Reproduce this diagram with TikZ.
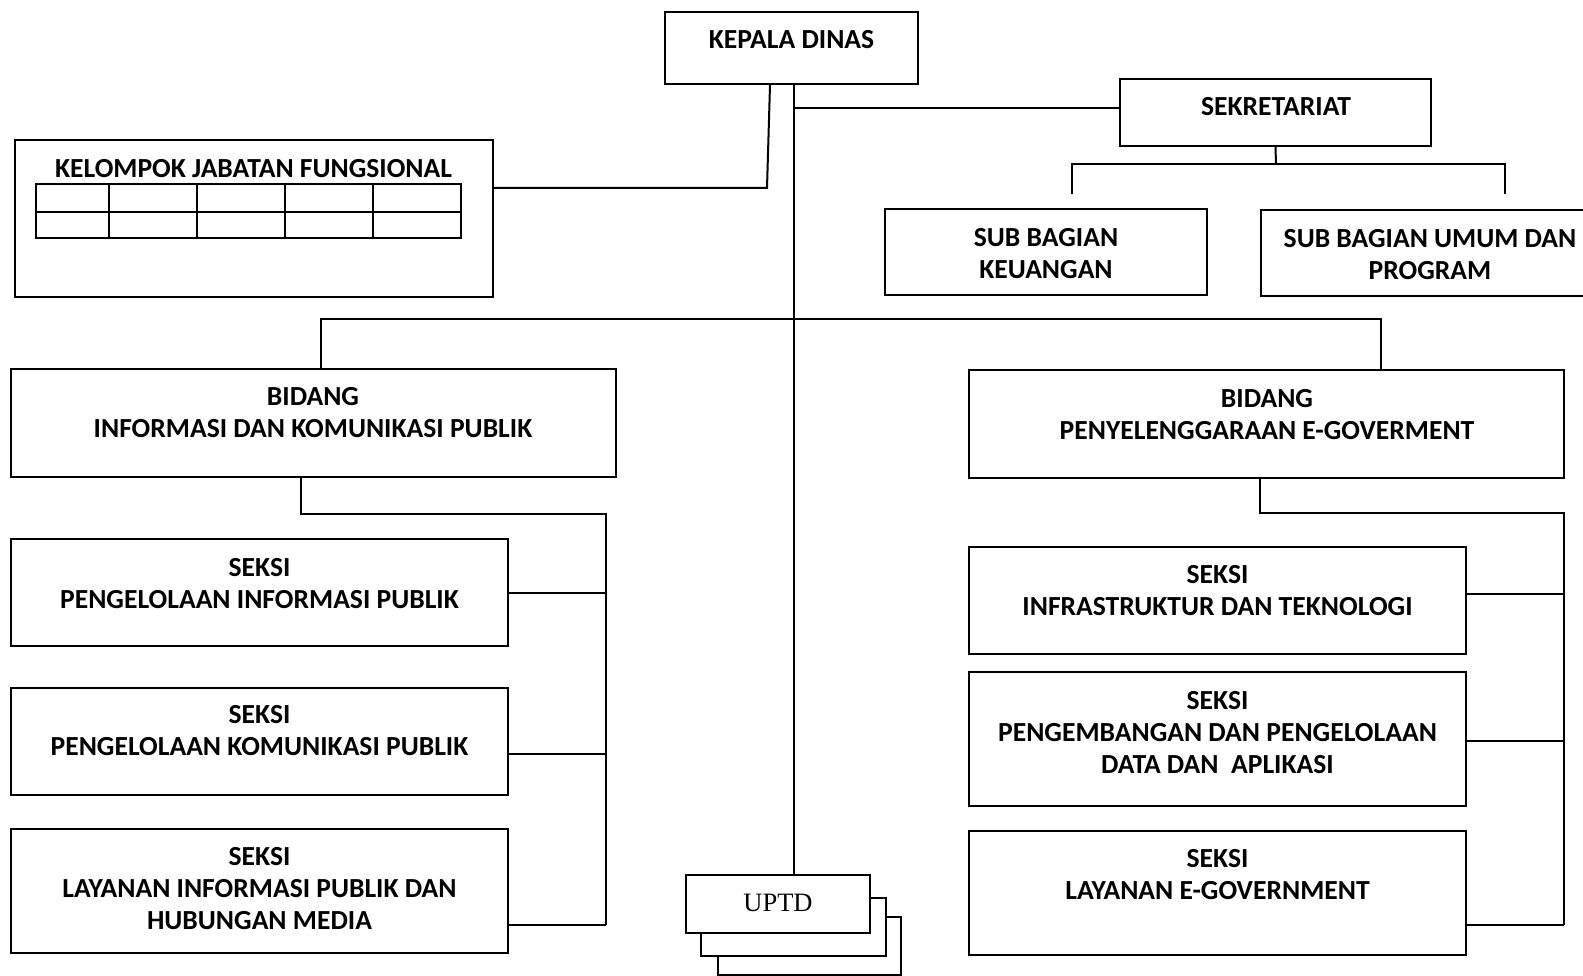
\documentclass[tikz,border=0pt]{standalone}
\usepackage{fontspec}
\setmainfont{Carlito}
\newfontfamily\uptdfont{Liberation Serif}
\tikzset{
  box/.style={draw, line width=2pt, rectangle, inner sep=0pt, fill=white},
  lbl/.style={font=\bfseries\fontsize{27.6}{32}\selectfont, align=center, inner sep=0pt},
  conn/.style={line width=2pt},
}
\begin{document}
\begin{tikzpicture}[x=1pt,y=-1pt]
\useasboundingbox (0,0) rectangle (1583,976);
\begin{scope}
\clip (0,0) rectangle (1583,976);
% boxes
\node[box, minimum width=253, minimum height=72] (kd) at (791.5,48) {};
\node[lbl] (kdT) at (791.5,40) {KEPALA DINAS};
\node[box, minimum width=311, minimum height=67] (sek) at (1275.5,112.5) {};
\node[lbl] (sekT) at (1276,107) {SEKRETARIAT};
\node[box, minimum width=322, minimum height=86] (sbk) at (1046,252) {};
\node[lbl] (sbkT) at (1046,254) {SUB BAGIAN\\KEUANGAN};
\node[box, minimum width=339, minimum height=86] (sbu) at (1430.5,253) {};
\node[lbl] (sbuT) at (1430,255) {SUB BAGIAN UMUM DAN\\PROGRAM};
\node[box, minimum width=478, minimum height=157] (kjf) at (254,218.5) {};
\node[lbl] (kjfT) at (253.5,169) {KELOMPOK JABATAN FUNGSIONAL};
\draw[conn] (35.7,184) rectangle (461,238.3);
\draw[conn] (35.7,211.7) -- (461,211.7);
\foreach \cx in {109,196.7,285,373.3} \draw[conn] (\cx,184) -- (\cx,238.3);
\node[box, minimum width=605, minimum height=107] (bik) at (313.5,423) {};
\node[lbl] (bikT) at (313,413) {BIDANG\\INFORMASI DAN KOMUNIKASI PUBLIK};
\node[box, minimum width=595, minimum height=107] (bpe) at (1266.5,424) {};
\node[lbl] (bpeT) at (1267,415) {BIDANG\\PENYELENGGARAAN E-GOVERMENT};
\node[box, minimum width=497, minimum height=107] (sl1) at (259.5,592.5) {};
\node[lbl] (sl1T) at (259.5,584) {SEKSI\\PENGELOLAAN INFORMASI PUBLIK};
\node[box, minimum width=497, minimum height=107] (sl2) at (259.5,741) {};
\node[lbl] (sl2T) at (259.5,731) {SEKSI\\PENGELOLAAN KOMUNIKASI PUBLIK};
\node[box, minimum width=497, minimum height=124] (sl3) at (259.5,891) {};
\node[lbl] (sl3T) at (259.5,889) {SEKSI\\LAYANAN INFORMASI PUBLIK DAN\\HUBUNGAN MEDIA};
\node[box, minimum width=497, minimum height=107] (sr1) at (1217.5,600.5) {};
\node[lbl] (sr1T) at (1217.5,591) {SEKSI\\INFRASTRUKTUR DAN TEKNOLOGI};
\node[box, minimum width=497, minimum height=134] (sr2) at (1217.5,739) {};
\node[lbl] (sr2T) at (1217.5,733) {SEKSI\\PENGEMBANGAN DAN PENGELOLAAN\\DATA DAN\ \ APLIKASI};
\node[box, minimum width=497, minimum height=124] (sr3) at (1217.5,893) {};
\node[lbl] (sr3T) at (1217.5,875) {SEKSI\\LAYANAN E-GOVERNMENT};
% UPTD stack
\node[box, minimum width=183, minimum height=57.7] (u3) at (809.3,946) {};
\node[box, minimum width=184.7, minimum height=58] (u2) at (793.3,926.7) {};
\node[box, minimum width=184, minimum height=58] (u1) at (778,904) {};
\node[font=\uptdfont\fontsize{26.5}{30}\selectfont, inner sep=0pt] (u1T) at (778,903) {UPTD};
% connectors
\draw[conn] (770,0 |- kd.south) -- (767,188) -- (767,188 -| kjf.east);
\draw[conn] (794,0 |- kd.south) -- (794,0 |- u1.north);
\draw[conn] (794,108) -- (794,108 -| sek.west);
\coordinate (skl) at (1072,194);
\coordinate (skr) at (1505,194);
\draw[conn] (sek.south) -- (1276,164);
\draw[conn] (skl) -- (1072,164) -- (1505,164) -- (skr);
\draw[conn] (321,0 |- bik.north) -- (321,319) -- (1381,319) -- (1381,0 |- bpe.north);
\draw[conn] (301,0 |- bik.south) -- (301,513.5) -- (605.5,513.5) -- (605.5,925);
\draw[conn] (sl1.east |- 0,592.5) -- (605.5,592.5);
\draw[conn] (sl2.east |- 0,754) -- (605.5,754);
\draw[conn] (sl3.east |- 0,925) -- (605.5,925);
\draw[conn] (1260,0 |- bpe.south) -- (1260,513) -- (1564,513) -- (1564,925);
\draw[conn] (sr1.east |- 0,594) -- (1564,594);
\draw[conn] (sr2.east |- 0,741) -- (1564,741);
\draw[conn] (sr3.east |- 0,925) -- (1564,925);
\end{scope}
\end{tikzpicture}
\end{document}
